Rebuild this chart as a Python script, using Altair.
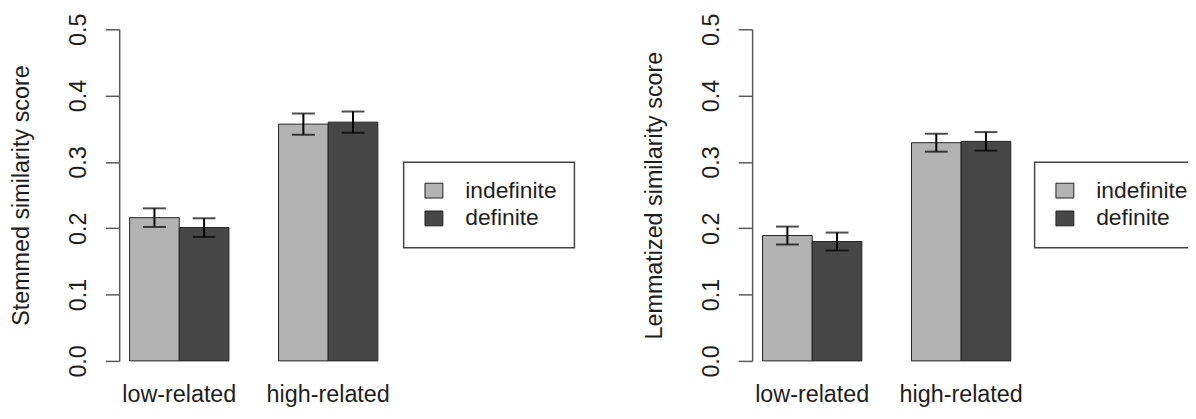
import altair as alt
import pandas as pd

groups = ["low-related", "high-related"]
series = ["indefinite", "definite"]

stem_indef = [0.216, 0.357]
stem_def = [0.201, 0.360]
stem_indef_err = [0.014, 0.016]
stem_def_err = [0.014, 0.016]

lem_indef = [0.189, 0.329]
lem_def = [0.180, 0.331]
lem_indef_err = [0.0135, 0.0135]
lem_def_err = [0.0135, 0.014]

y_ticks = [0.0, 0.1, 0.2, 0.3, 0.4, 0.5]

FONT = "Liberation Sans"
LIGHT = "#b3b3b3"
DARK = "#474747"
TXT = "#1e1e1e"
AX = "#5a5a5a"


def frame(ind, de, ind_e, de_e):
    rows = []
    for i, g in enumerate(groups):
        rows.append(dict(group=g, article="indefinite", score=ind[i],
                         lo=ind[i] - ind_e[i], hi=ind[i] + ind_e[i]))
        rows.append(dict(group=g, article="definite", score=de[i],
                         lo=de[i] - de_e[i], hi=de[i] + de_e[i]))
    return pd.DataFrame(rows)


def panel(df, title, leg_x):
    x = alt.X("group:N", sort=groups, title=None,
              scale=alt.Scale(paddingInner=1 / 3, paddingOuter=0),
              axis=alt.Axis(domain=False, ticks=False, tickSize=0, labelAngle=0,
                            labelFontSize=23.5, labelFont=FONT, labelColor=TXT,
                            labelBaseline="alphabetic", labelPadding=41))
    xo = alt.XOffset("article:N", sort=series,
                     scale=alt.Scale(paddingInner=0, paddingOuter=0))
    yscale = alt.Scale(domain=[0, 0.5], nice=False, zero=True)
    yaxis = alt.Axis(values=y_ticks, format=".1f", grid=False, offset=10.5,
                     tickSize=14, tickColor=AX, tickWidth=1.5,
                     domainColor=AX, domainWidth=1.5,
                     labelAngle=270, labelAlign="center", labelBaseline="alphabetic",
                     labelPadding=20, labelFontSize=23.5, labelFont=FONT,
                     labelColor=TXT, titleFontSize=23.5, titleFont=FONT,
                     titleFontWeight="normal", titleColor=TXT, titlePadding=33)
    color = alt.Color("article:N", sort=series,
                      scale=alt.Scale(domain=series, range=[LIGHT, DARK]),
                      legend=alt.Legend(title=None, orient="none", legendX=leg_x,
                                        legendY=134))
    bars = alt.Chart(df).mark_bar(stroke="#222222", strokeWidth=1).encode(
        x=x, xOffset=xo,
        y=alt.Y("score:Q", title=title, scale=yscale, axis=yaxis),
        color=color)
    err = alt.Chart(df).mark_rule(color="black", strokeWidth=2).encode(
        x=x, xOffset=xo,
        y=alt.Y("lo:Q", title=title, scale=yscale, axis=yaxis), y2="hi:Q")
    cap_lo = alt.Chart(df).mark_tick(color="black", thickness=2, size=23,
                                     orient="horizontal").encode(
        x=x, xOffset=xo, y=alt.Y("lo:Q", title=title, scale=yscale, axis=yaxis))
    cap_hi = alt.Chart(df).mark_tick(color="black", thickness=2, size=23,
                                     orient="horizontal").encode(
        x=x, xOffset=xo, y=alt.Y("hi:Q", title=title, scale=yscale, axis=yaxis))
    return alt.layer(bars, err, cap_lo, cap_hi).properties(width=250, height=334)


left = panel(frame(stem_indef, stem_def, stem_indef_err, stem_def_err),
             "Stemmed similarity score", 276)
right = panel(frame(lem_indef, lem_def, lem_indef_err, lem_def_err),
              "Lemmatized similarity score", 274)

chart = alt.hconcat(left, right, spacing=67.5).resolve_scale(
    color="independent").resolve_legend(color="independent").properties(
    padding={"left": 1.5, "top": 3, "right": -19, "bottom": 0},
    background="white",
).configure_view(stroke=None).configure_legend(
    padding=17, strokeColor="#444444", strokeWidth=1.5, fillColor="white",
    symbolType="M-1,-0.83H1V0.83H-1Z", symbolSize=324,
    symbolStrokeColor="#222222", symbolStrokeWidth=1,
    labelFontSize=23, labelFont=FONT, labelColor=TXT, labelOffset=20,
    rowPadding=4, symbolOffset=2,
)

chart.save("out.html", embed_options={"renderer": "svg", "actions": False})
